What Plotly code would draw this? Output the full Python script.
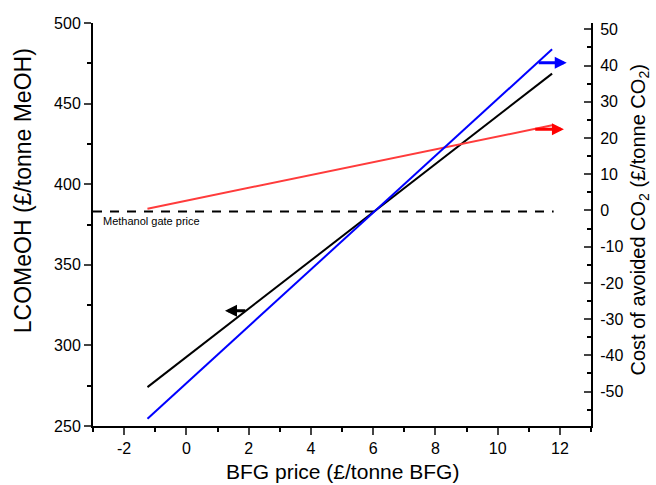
import plotly.graph_objects as go

# Data
bfg_price = [-1.25, 11.75]
lcomeoh = [274.1, 468.6]            # left axis (black)
co2_cost_blue = [-57.5, 44.5]       # right axis (blue)
co2_cost_red = [0.5, 23.5]          # right axis (red)
gate_price = 383.0
gate_x = [-3.0, 11.8]

x_tickvals = [-2, 0, 2, 4, 6, 8, 10, 12]
x_ticktext = ["-2", "0", "2", "4", "6", "8", "10", "12"]
y2_tickvals = [50, 40, 30, 20, 10, 0, -10, -20, -30, -40, -50]
y2_ticktext = ["50", "40", "30", "20", "10", "0", "-10", "-20", "-30", "-40", "-50"]

FONT = "Liberation Sans, Arial, sans-serif"

fig = go.Figure()
fig.add_trace(go.Scatter(x=gate_x, y=[gate_price, gate_price], mode="lines",
                         line=dict(color="black", width=2, dash="9px,8px"),
                         showlegend=False, hoverinfo="skip"))
fig.add_trace(go.Scatter(x=bfg_price, y=lcomeoh, mode="lines",
                         line=dict(color="black", width=2), showlegend=False))
fig.add_trace(go.Scatter(x=bfg_price, y=co2_cost_red, mode="lines", yaxis="y2",
                         line=dict(color="#FF3B3B", width=2), showlegend=False))
fig.add_trace(go.Scatter(x=bfg_price, y=co2_cost_blue, mode="lines", yaxis="y2",
                         line=dict(color="#0000FF", width=2), showlegend=False))

# Arrows
fig.add_annotation(x=1.24, y=321.5, ax=1.94, ay=321.5, xref="x", yref="y",
                   axref="x", ayref="y", showarrow=True, arrowhead=2,
                   arrowsize=0.8, arrowwidth=3, arrowcolor="black", text="")
fig.add_annotation(x=12.22, y=40.8, ax=11.27, ay=40.8, xref="x", yref="y2",
                   axref="x", ayref="y2", showarrow=True, arrowhead=2,
                   arrowsize=0.8, arrowwidth=3, arrowcolor="#0000FF", text="")
fig.add_annotation(x=12.13, y=22.4, ax=11.16, ay=22.4, xref="x", yref="y2",
                   axref="x", ayref="y2", showarrow=True, arrowhead=2,
                   arrowsize=0.8, arrowwidth=3, arrowcolor="#FF0000", text="")

fig.add_annotation(x=-2.75, y=gate_price, xref="x", yref="y", text="Methanol gate price",
                   showarrow=False, xanchor="left", yanchor="top", yshift=-1,
                   font=dict(family=FONT, size=11, color="black"))

# Axis titles
fig.add_annotation(x=-0.1406, y=0.585, xref="paper", yref="paper",
                   text="LCOMeOH (£/tonne MeOH)", textangle=-90, showarrow=False,
                   xanchor="center", yanchor="middle",
                   font=dict(family=FONT, size=23, color="black"))
fig.add_annotation(x=0.5, y=-0.1117, xref="paper", yref="paper",
                   text="BFG price (£/tonne BFG)", showarrow=False,
                   xanchor="center", yanchor="middle", borderpad=0,
                   font=dict(family=FONT, size=21, color="black"))
fig.add_annotation(x=1.098, y=0.512, xref="paper", yref="paper",
                   text="Cost of avoided CO<sub>2</sub> (£/tonne CO<sub>2</sub>)",
                   textangle=-90, showarrow=False, xanchor="center", yanchor="middle",
                   font=dict(family=FONT, size=20, color="black"))

fig.update_layout(
    width=656, height=485,
    margin=dict(l=93, r=65, t=23, b=59, autoexpand=False),
    paper_bgcolor="white", plot_bgcolor="white",
    font=dict(family=FONT, size=16, color="black"),
    xaxis=dict(range=[-3, 13], tickvals=x_tickvals, ticktext=x_ticktext,
               ticks="outside", ticklen=7, automargin=False,
               tickwidth=2, linewidth=2, linecolor="black", showline=True,
               showgrid=False, zeroline=False,
               minor=dict(dtick=1, tick0=0, ticks="outside", ticklen=4, tickwidth=2, tickcolor="black")),
    yaxis=dict(range=[250, 500], dtick=50, ticks="outside", ticklen=7, tickwidth=2,
               linewidth=2, linecolor="black", showline=True, showgrid=False,
               zeroline=False, automargin=False,
               minor=dict(dtick=25, ticks="outside", ticklen=4, tickwidth=2, tickcolor="black")),
    yaxis2=dict(range=[-59.5, 51.75], tickvals=y2_tickvals, ticktext=y2_ticktext,
                overlaying="y", side="right", automargin=False,
                ticks="inside", ticklen=7, tickwidth=2, linewidth=2, linecolor="black",
                showline=True, showgrid=False, zeroline=False, ticklabelstandoff=4,
                minor=dict(dtick=5, tick0=0, ticks="inside", ticklen=4, tickwidth=2, tickcolor="black")),
)

fig.write_html("out.html")
